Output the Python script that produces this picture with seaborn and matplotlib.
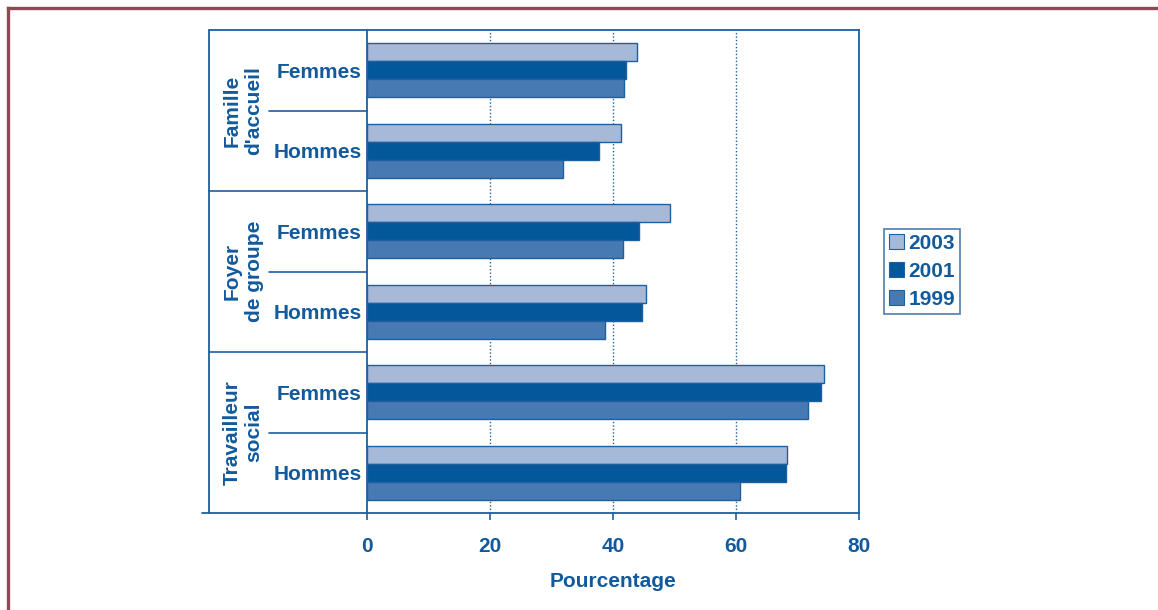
import matplotlib
matplotlib.use("Agg")
import matplotlib.pyplot as plt
import seaborn as sns
import pandas as pd
from matplotlib.lines import Line2D
from matplotlib.transforms import blended_transform_factory

groups = ["Famille\nd'accueil", "Foyer\nde groupe", "Travailleur\nsocial"]
sexes = ["Femmes", "Hommes"]
years = ["2003", "2001", "1999"]
v2003 = [43.9, 41.3, 49.3, 45.4, 74.3, 68.3]
v2001 = [42.1, 37.7, 44.2, 44.7, 73.8, 68.2]
v1999 = [41.8, 31.9, 41.6, 38.7, 71.7, 60.7]
xticks = [0, 20, 40, 60, 80]
xlabel = "Pourcentage"

colors = {"2003": "#A7B9D9", "2001": "#03589C", "1999": "#477AB3"}
txt = "#125A9C"
edge = "#1F5F9F"
frame_col = "#8E4A52"
FS = 15

cats = [f"{g}|{s}" for g in groups for s in sexes]
rows = []
for yr, vals in zip(years, [v2003, v2001, v1999]):
    for c, v in zip(cats, vals):
        rows.append({"cat": c, "year": yr, "val": v})
df = pd.DataFrame(rows)

sns.set_theme(style="white")
plt.rcParams["font.family"] = ["Liberation Sans", "DejaVu Sans"]
plt.rcParams["font.weight"] = "bold"

fig = plt.figure(figsize=(11.58, 6.10), dpi=100)
ax = fig.add_axes([367/1158, 1-513/610, (859-367)/1158, (513-30)/610])

sns.barplot(data=df, y="cat", x="val", hue="year", order=cats, hue_order=years,
            palette=colors, orient="h", width=0.67, edgecolor=edge, linewidth=1.0,
            saturation=1, ax=ax, legend=True, errorbar=None)

ax.set_xlim(0, 80)
ax.set_xticks(xticks)
ax.set_xticklabels([str(t) for t in xticks], fontsize=FS, fontweight="bold", color=txt)
ax.set_yticks(range(len(cats)))
ax.set_yticklabels([c.split("|")[1] for c in cats], fontsize=FS, fontweight="bold", color=txt)
ax.tick_params(axis="y", length=0, pad=4)
ax.tick_params(axis="x", direction="out", length=5, width=1.2, color=edge, pad=12, bottom=True)
ax.set_xlabel(xlabel, fontsize=FS, fontweight="bold", color=txt, labelpad=12)
ax.set_ylabel("")

for t in xticks[1:-1]:
    ax.axvline(t, color=edge, linestyle=(0, (1, 1.5)), linewidth=1.0, zorder=0)

for s in ax.spines.values():
    s.set_color(edge)
    s.set_linewidth(1.3)

# Left label panel
trans = blended_transform_factory(ax.transAxes, ax.transData)
xl = (209-367)/492
xs = (269-367)/492
n = len(cats)
for i in range(n - 1):
    y = i + 0.5
    start = xl if (i % 2 == 1) else xs
    ax.add_line(Line2D([start, 0], [y, y], transform=trans, color=edge, lw=1.2, clip_on=False))
ta = ax.transAxes
ax.add_line(Line2D([xl, 0], [1, 1], transform=ta, color=edge, lw=1.3, clip_on=False))
ax.add_line(Line2D([xl - 0.015, 0], [0, 0], transform=ta, color=edge, lw=1.3, clip_on=False))
ax.add_line(Line2D([xl, xl], [0, 1], transform=ta, color=edge, lw=1.3, clip_on=False))
for gi, g in enumerate(groups):
    yc = gi * 2 + 0.5
    ax.text(-0.252, yc, g, transform=trans, rotation=90, ha="center", va="center",
            multialignment="center", fontsize=FS, fontweight="bold", color=txt,
            linespacing=1.2)

leg = ax.legend(loc="upper left", bbox_to_anchor=(884/1158, 1-229/610),
                bbox_transform=fig.transFigure, borderaxespad=0, frameon=True,
                fancybox=False, handlelength=0.72, handleheight=0.72, handletextpad=0.2,
                labelspacing=0.42, borderpad=0.25, prop={"size": FS, "weight": "bold"})
leg.get_frame().set_edgecolor(edge)
leg.get_frame().set_linewidth(1.2)
for t in leg.get_texts():
    t.set_color(txt)
for h in leg.legend_handles:
    h.set_edgecolor(edge)
    h.set_linewidth(0.8)

# Outer brown frame
fig.add_artist(Line2D([8/1158, 1], [1-8/610, 1-8/610], transform=fig.transFigure,
                      color=frame_col, lw=2.4, solid_capstyle="projecting"))
fig.add_artist(Line2D([8/1158, 8/1158], [0, 1-8/610], transform=fig.transFigure,
                      color=frame_col, lw=2.4, solid_capstyle="projecting"))

fig.savefig("out.png", dpi=100)
